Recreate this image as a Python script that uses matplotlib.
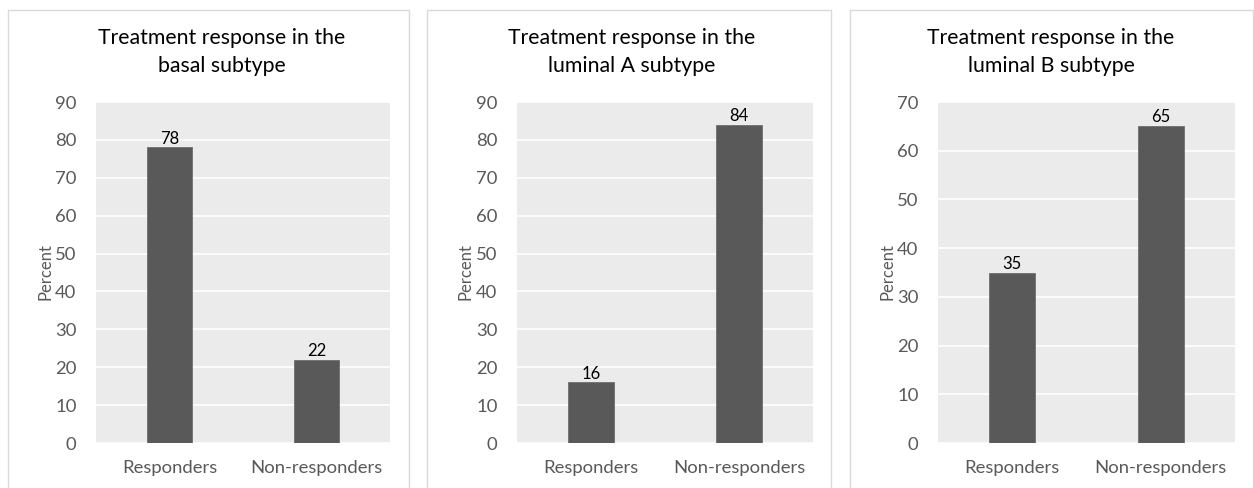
import matplotlib
matplotlib.use("Agg")
import matplotlib.pyplot as plt
from matplotlib.patches import Rectangle

categories = ["Responders", "Non-responders"]
basal = [78, 22]
luminal_a = [16, 84]
luminal_b = [35, 65]
titles = [
    "Treatment response in the\nbasal subtype",
    "Treatment response in the\nluminal A subtype",
    "Treatment response in the\nluminal B subtype",
]
y_limits = [90, 90, 70]

W, H = 1254, 488
fig = plt.figure(figsize=(W / 100, H / 100), dpi=100)
fig.patch.set_facecolor("white")

FONT = "Lato"
TICK_COLOR = "#595959"
BG = "#EBEBEB"
BAR = "#595959"

# panel frames (pixels: left, right)
frames = [(8, 409), (427, 831), (850, 1253)]
# axes boxes (pixels: left, right)
axes_px = [(96, 390), (517, 813), (938, 1235)]
ax_top, ax_bot = 102, 443
title_x = [222, 632, 1051]
ylabel_x = [46, 466, 888]

for frame in frames:
    fig.patches.append(Rectangle((frame[0] / W, -0.05), (frame[1] - frame[0]) / W,
                                 (H - 10) / H + 0.05, transform=fig.transFigure,
                                 facecolor="white", edgecolor="#D9D9D9", lw=1.0,
                                 zorder=-5))

series = [basal, luminal_a, luminal_b]
for i, vals in enumerate(series):
    l, r = axes_px[i]
    ax = fig.add_axes([l / W, 1 - ax_bot / H, (r - l) / W, (ax_bot - ax_top) / H])
    ax.set_zorder(2)
    ax.set_facecolor(BG)
    x = range(len(categories))
    bars = ax.bar(x, vals, width=0.31, color=BAR, edgecolor="#6E6E6E", lw=0.6, zorder=3)
    for b, v in zip(bars, vals):
        ax.text(b.get_x() + b.get_width() / 2, v + 0.2, f"{v}", ha="center", va="bottom",
                fontsize=12, family=FONT, color="black", zorder=4)
    ax.set_xlim(-0.5, 1.5)
    ax.set_ylim(0, y_limits[i])
    ax.set_yticks(range(0, y_limits[i] + 1, 10))
    ax.yaxis.grid(True, color="white", lw=1.2, zorder=1)
    ax.set_axisbelow(True)
    for s in ax.spines.values():
        s.set_visible(False)
    ax.set_xticks(list(x))
    ax.set_xticklabels(categories)
    ax.tick_params(axis="both", length=0, labelsize=13.3, labelcolor=TICK_COLOR)
    ax.tick_params(axis="y", pad=14)
    ax.tick_params(axis="x", pad=12)
    for lab in ax.get_xticklabels() + ax.get_yticklabels():
        lab.set_family(FONT)
    fig.text(ylabel_x[i] / W, 1 - 272 / H, "Percent", rotation=90, ha="center",
             va="center", fontsize=12, family=FONT, color=TICK_COLOR, zorder=3)
    fig.text(title_x[i] / W, 1 - 52 / H, titles[i], ha="center", va="center",
             fontsize=15.3, family=FONT, color="black", linespacing=1.55, zorder=3)

fig.savefig("out.png", dpi=100, facecolor="white")
